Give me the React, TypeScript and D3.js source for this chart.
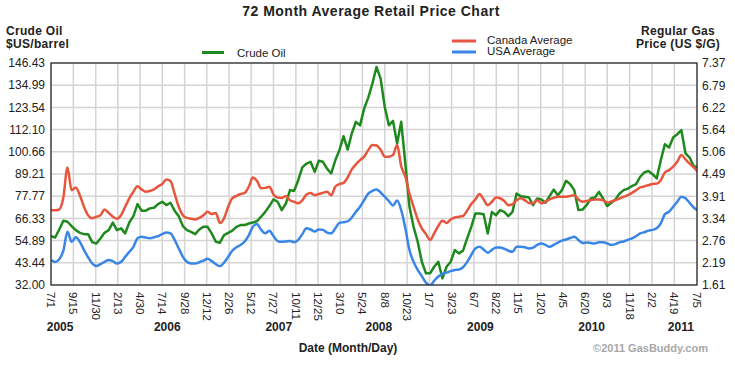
import React from "react";
import * as d3 from "d3";

// left axis (crude oil, $US/barrel) and right axis (gas, US $/G) tick labels
const crudeTicks = [32.0, 43.44, 54.89, 66.33, 77.77, 89.21, 100.66, 112.1, 123.54, 134.99, 146.43];
const gasTicks = [1.61, 2.19, 2.76, 3.34, 3.91, 4.49, 5.06, 5.64, 6.22, 6.79, 7.37];

const dateTicks = [
  "2005-07-01", "2005-09-15", "2005-11-30", "2006-02-13", "2006-04-30", "2006-07-14",
  "2006-09-28", "2006-12-12", "2007-02-26", "2007-05-12", "2007-07-27", "2007-10-11",
  "2007-12-25", "2008-03-10", "2008-05-24", "2008-08-08", "2008-10-23", "2009-01-07",
  "2009-03-23", "2009-06-07", "2009-08-22", "2009-11-05", "2010-01-20", "2010-04-05",
  "2010-06-20", "2010-09-03", "2010-11-18", "2011-02-02", "2011-04-19", "2011-07-05",
];

const yearLabels: [string, string][] = [
  ["2005", "2005-08-01"], ["2006", "2006-07-31"], ["2007", "2007-08-14"], ["2008", "2008-07-19"],
  ["2009", "2009-06-29"], ["2010", "2010-07-12"], ["2011", "2011-05-11"],
];

// samples every 14 days starting 2005-07-01
const sampleStart = "2005-07-01";
const sampleStepDays = 14;

const crudeOil = [
  57.2, 56.5, 60.6, 65.1, 64.6, 62.4, 60.3, 58.9, 58.2, 58.2,
  54.1, 53.4, 56.0, 58.9, 60.3, 64.2, 60.3, 61.2, 58.6, 64.2,
  67.5, 73.7, 70.3, 70.3, 71.5, 71.8, 73.7, 74.9, 73.2, 74.4,
  70.3, 67.5, 62.4, 60.3, 59.4, 58.2, 60.6, 62.0, 62.0, 58.6,
  54.3, 53.8, 57.7, 58.9, 60.0, 62.0, 62.9, 62.9, 63.7, 64.2,
  64.9, 67.2, 69.7, 72.7, 76.1, 74.9, 70.6, 74.0, 80.9, 80.5,
  86.0, 92.6, 94.6, 95.5, 90.3, 96.0, 95.5, 92.0, 89.5, 96.3,
  101.5, 108.7, 101.8, 110.1, 116.1, 114.3, 122.9, 128.6, 135.8, 144.4,
  138.4, 123.8, 114.3, 116.6, 104.9, 116.1, 94.6, 72.3, 62.0, 54.3,
  44.0, 38.0, 38.0, 41.4, 44.0, 35.4, 41.4, 44.0, 50.0, 48.3,
  49.7, 56.0, 62.0, 68.9, 68.9, 68.5, 58.6, 69.7, 68.0, 70.6,
  69.7, 67.5, 69.7, 79.2, 77.8, 77.5, 77.1, 73.2, 76.6, 76.1,
  74.4, 77.8, 81.2, 78.3, 80.9, 85.7, 84.0, 80.9, 70.6, 70.9,
  73.2, 76.6, 77.1, 80.0, 76.6, 72.7, 74.4, 76.1, 79.2, 80.9,
  81.7, 83.0, 84.0, 87.8, 90.0, 90.8, 89.1, 86.9, 96.3, 104.6,
  102.9, 108.0, 109.7, 111.8, 99.8, 97.7, 93.2, 92.9,
];

const canadaAvg = [
  3.55, 3.55, 3.57, 3.88, 4.66, 4.07, 4.14, 3.94, 3.64, 3.42,
  3.34, 3.38, 3.42, 3.57, 3.48, 3.38, 3.33, 3.42, 3.64, 3.86,
  4.03, 4.17, 4.09, 4.03, 4.05, 4.09, 4.17, 4.23, 4.35, 4.31,
  3.98, 3.64, 3.42, 3.35, 3.33, 3.31, 3.35, 3.42, 3.51, 3.45,
  3.48, 3.22, 3.34, 3.64, 3.86, 3.92, 3.97, 4.00, 4.16, 4.40,
  4.31, 4.12, 4.13, 4.16, 3.96, 3.88, 3.87, 3.92, 3.81, 3.77,
  3.73, 3.81, 3.96, 4.00, 3.94, 3.97, 4.00, 4.03, 3.94, 4.16,
  4.23, 4.26, 4.40, 4.61, 4.74, 4.85, 4.94, 5.11, 5.24, 5.23,
  5.12, 4.94, 4.94, 4.98, 5.24, 4.69, 4.42, 3.98, 3.64, 3.31,
  3.08, 2.93, 2.78, 2.95, 3.14, 3.28, 3.22, 3.31, 3.36, 3.38,
  3.40, 3.54, 3.71, 3.83, 3.97, 3.83, 3.68, 3.77, 3.88, 3.86,
  3.79, 3.68, 3.71, 3.81, 3.86, 3.81, 3.74, 3.73, 3.81, 3.73,
  3.77, 3.83, 3.87, 3.90, 3.90, 3.90, 3.92, 3.94, 3.83, 3.77,
  3.79, 3.81, 3.83, 3.83, 3.81, 3.75, 3.78, 3.81, 3.85, 3.90,
  3.94, 4.00, 4.07, 4.14, 4.17, 4.20, 4.23, 4.24, 4.33, 4.53,
  4.59, 4.68, 4.81, 4.98, 4.87, 4.76, 4.66, 4.55,
];

const usaAvg = [
  2.26, 2.21, 2.28, 2.50, 2.99, 2.73, 2.85, 2.73, 2.52, 2.33,
  2.17, 2.10, 2.15, 2.21, 2.26, 2.23, 2.17, 2.21, 2.34, 2.47,
  2.60, 2.82, 2.86, 2.84, 2.82, 2.85, 2.88, 2.93, 2.97, 2.95,
  2.78, 2.56, 2.34, 2.21, 2.17, 2.17, 2.20, 2.24, 2.29, 2.23,
  2.15, 2.10, 2.19, 2.34, 2.50, 2.59, 2.65, 2.74, 2.90, 3.12,
  3.19, 3.04, 2.95, 3.02, 2.88, 2.75, 2.73, 2.74, 2.75, 2.72,
  2.78, 2.93, 3.08, 3.05, 3.00, 3.05, 3.04, 2.97, 2.95, 3.08,
  3.22, 3.24, 3.26, 3.36, 3.51, 3.64, 3.81, 3.98, 4.05, 4.09,
  4.01, 3.90, 3.79, 3.67, 3.80, 3.55, 3.08, 2.52, 2.21, 2.00,
  1.84, 1.67, 1.60, 1.72, 1.83, 1.90, 1.93, 1.97, 2.00, 2.01,
  2.07, 2.21, 2.39, 2.56, 2.60, 2.53, 2.45, 2.52, 2.58, 2.58,
  2.55, 2.50, 2.47, 2.60, 2.60, 2.59, 2.56, 2.58, 2.65, 2.69,
  2.65, 2.60, 2.65, 2.71, 2.76, 2.79, 2.83, 2.86, 2.78, 2.70,
  2.71, 2.70, 2.69, 2.72, 2.72, 2.69, 2.65, 2.67, 2.72, 2.74,
  2.78, 2.82, 2.88, 2.95, 2.98, 3.02, 3.04, 3.08, 3.21, 3.45,
  3.51, 3.64, 3.77, 3.90, 3.86, 3.74, 3.62, 3.54,
];

const W = 735;
const H = 369;
const plot = { left: 51, right: 697, top: 63, bottom: 285 };
const font = "'Liberation Sans', Arial, sans-serif";
const GREEN = "#1e8a1e";
const RED = "#e8553d";
const BLUE = "#3a86e6";

const App = () => {
  const parse = d3.timeParse("%Y-%m-%d");
  const start = parse(sampleStart)!;
  const dates = crudeOil.map((_, i) => d3.timeDay.offset(start, i * sampleStepDays));
  const ticks = dateTicks.map(d => parse(d)!);

  const x = d3.scaleTime().domain([ticks[0], ticks[ticks.length - 1]]).range([plot.left, plot.right]);
  const yCrude = d3.scaleLinear().domain([crudeTicks[0], crudeTicks[crudeTicks.length - 1]]).range([plot.bottom, plot.top]);
  const yGas = d3.scaleLinear().domain([gasTicks[0], gasTicks[gasTicks.length - 1]]).range([plot.bottom, plot.top]);
  const fmt = d3.timeFormat("%-m/%-d");

  const crudeLine = d3.line<number>().x((_, i) => x(dates[i])).y(d => yCrude(d));
  const gasLine = d3.line<number>().x((_, i) => x(dates[i])).y(d => yGas(d)).curve(d3.curveMonotoneX);

  return (
    <svg width={W} height={H} style={{ position: "absolute", left: 0, top: 0, background: "#fff" }} fontFamily={font}>
      <defs>
        <clipPath id="plotClip">
          <rect x={plot.left} y={plot.top} width={plot.right - plot.left} height={plot.bottom - plot.top} />
        </clipPath>
      </defs>

      <text x={371} y={16} textAnchor="middle" fontSize={14} fontWeight="bold" letterSpacing={0.5} fill="#222">
        72 Month Average Retail Price Chart
      </text>

      <text x={6} y={35} fontSize={12} fontWeight="bold" letterSpacing={0.3} fill="#222">Crude Oil</text>
      <text x={6} y={48} fontSize={12} fontWeight="bold" letterSpacing={0.3} fill="#222">$US/barrel</text>
      <text x={678} y={35} textAnchor="middle" fontSize={12} fontWeight="bold" letterSpacing={0.3} fill="#222">Regular Gas</text>
      <text x={678} y={48} textAnchor="middle" fontSize={12} fontWeight="bold" letterSpacing={0.3} fill="#222">Price (US $/G)</text>

      {/* legend */}
      <line x1={202} x2={224} y1={52.5} y2={52.5} stroke={GREEN} strokeWidth={3} />
      <text x={237} y={57} fontSize={11.5} fill="#222">Crude Oil</text>
      <line x1={452} x2={476} y1={41} y2={41} stroke={RED} strokeWidth={3} />
      <text x={487} y={44} fontSize={11.5} fill="#222">Canada Average</text>
      <line x1={452} x2={476} y1={52} y2={52} stroke={BLUE} strokeWidth={3} />
      <text x={487} y={55} fontSize={11.5} fill="#222">USA Average</text>

      {/* grid */}
      {crudeTicks.map(t => (
        <line key={"h" + t} x1={plot.left} x2={plot.right} y1={yCrude(t)} y2={yCrude(t)} stroke="#d4d4d4" strokeWidth={1.5} />
      ))}
      {ticks.map((t, i) => (
        <line key={"v" + i} x1={x(t)} x2={x(t)} y1={plot.top} y2={plot.bottom} stroke="#d4d4d4" strokeWidth={1.5} />
      ))}

      <g clipPath="url(#plotClip)" fill="none" strokeLinejoin="round">
        <path d={crudeLine(crudeOil)!} stroke={GREEN} strokeWidth={2.5} />
        <path d={gasLine(canadaAvg)!} stroke={RED} strokeWidth={2.5} />
        <path d={gasLine(usaAvg)!} stroke={BLUE} strokeWidth={2.5} />
      </g>

      <rect x={plot.left} y={plot.top} width={plot.right - plot.left} height={plot.bottom - plot.top} fill="none" stroke="#222" strokeWidth={1.2} />

      {/* y labels */}
      {crudeTicks.map(t => (
        <text key={"l" + t} x={45} y={yCrude(t)} dy="0.35em" textAnchor="end" fontSize={12} fill="#222">{t.toFixed(2)}</text>
      ))}
      {gasTicks.map(t => (
        <text key={"r" + t} x={702} y={yGas(t)} dy="0.35em" fontSize={12} fill="#222">{t.toFixed(2)}</text>
      ))}

      {/* x labels */}
      {ticks.map((t, i) => (
        <text key={"x" + i} transform={`translate(${x(t)},292) rotate(90)`} dy="0.35em" fontSize={11.5} fill="#222">{fmt(t)}</text>
      ))}
      {yearLabels.map(([label, d]) => (
        <text key={label} x={x(parse(d)!)} y={331} textAnchor="middle" fontSize={12} fontWeight="bold" fill="#222">{label}</text>
      ))}

      <text x={348} y={352} textAnchor="middle" fontSize={12} fontWeight="bold" fill="#222">Date (Month/Day)</text>
      <text x={708} y={352} textAnchor="end" fontSize={11} fontWeight="bold" fill="#a8a8a8">©2011 GasBuddy.com</text>
    </svg>
  );
};

export default App;
